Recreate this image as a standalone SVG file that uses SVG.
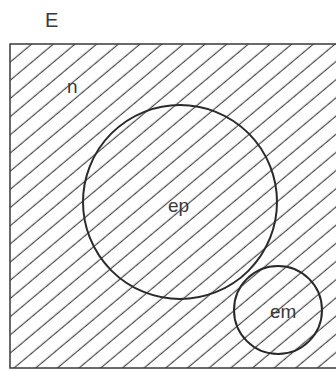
<svg xmlns="http://www.w3.org/2000/svg" width="336" height="371" viewBox="0 0 336 371">
  <style>
    .lbl { font-family: "Liberation Sans", Arial, sans-serif; fill: #3a3a3a; }
    .circ { fill: none; stroke: #2a2a2a; stroke-width: 2; }
  </style>
  <defs>
    <pattern id="hatch" patternUnits="userSpaceOnUse" width="20" height="13.93" patternTransform="rotate(-40)">
      <line x1="-1" y1="12.3" x2="21" y2="12.3" stroke="#3a3a3a" stroke-width="1.1"/>
    </pattern>
  </defs>
  <rect width="336" height="371" fill="#ffffff"/>
  <g id="universe">
    <rect x="10" y="44" width="340" height="324" fill="url(#hatch)" stroke="#3a3a3a" stroke-width="1.5"/>
    <text class="lbl" x="45" y="27" font-size="20">E</text>
    <text class="lbl" x="67" y="93" font-size="19">n</text>
  </g>
  <g id="ep">
    <circle class="circ" cx="180" cy="202" r="97"/>
    <text class="lbl" x="168" y="212" font-size="19">ep</text>
  </g>
  <g id="em">
    <circle class="circ" cx="278" cy="310" r="44"/>
    <text class="lbl" x="270" y="318" font-size="19">em</text>
  </g>
  <g id="connectors"/>
</svg>
